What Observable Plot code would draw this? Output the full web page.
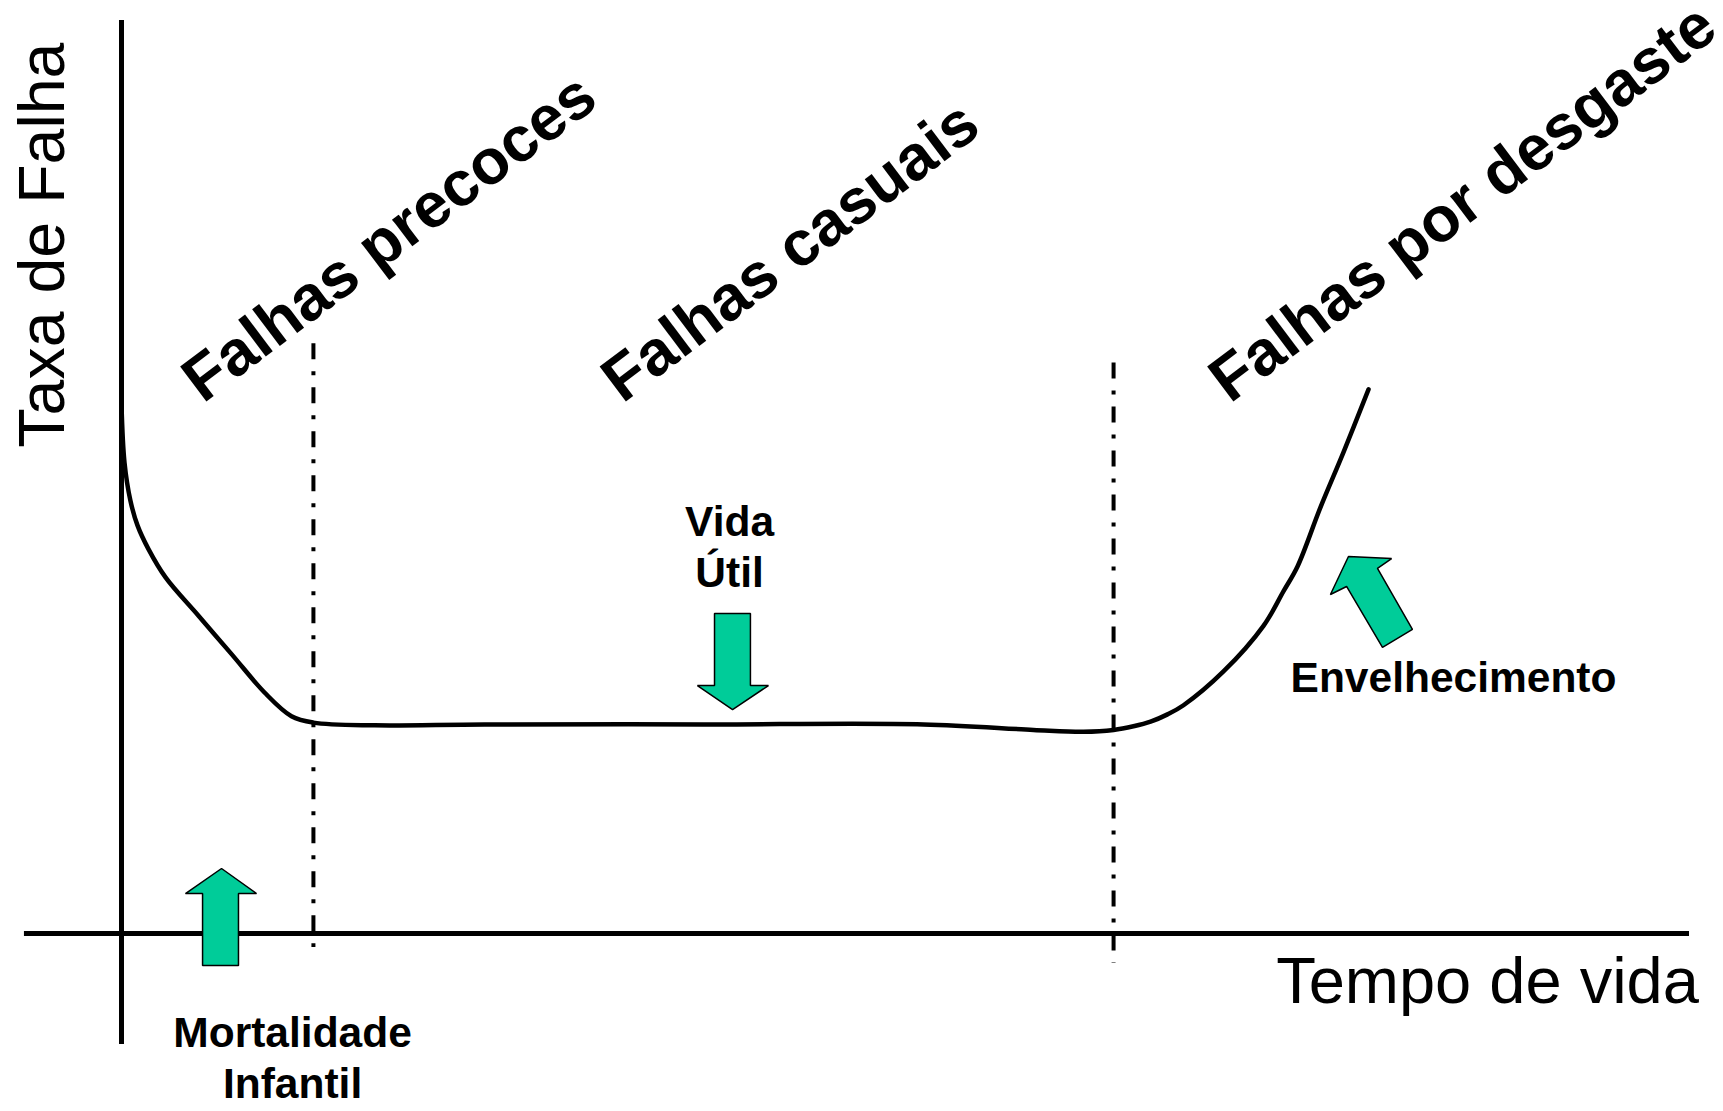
<!DOCTYPE html>
<html>
<head>
<meta charset="utf-8">
<script src="https://cdn.jsdelivr.net/npm/d3@7"></script>
<script src="https://cdn.jsdelivr.net/npm/@observablehq/plot@0.6"></script>
<style>
  html, body { margin: 0; padding: 0; background: #fff; }
  #chart { width: 1723px; height: 1111px; }
</style>
</head>
<body>
<div id="chart"></div>
<script>
// Bathtub curve: time (0-100) vs failure rate (0-100)
const curveTime = [0, 0.19, 0.57, 1.02, 1.72, 2.81, 4.91, 7.02, 9.12, 10.84, 12.24, 16.14, 23.15, 37.12, 51.15, 58.16, 61.35, 63.27, 64.54, 65.63, 66.71, 67.73, 70.28, 72.83, 74.11, 75.0, 76.47, 77.93, 79.53];
const curveRate = [57.9, 51.6, 47.4, 44.7, 42.1, 39.0, 34.8, 30.6, 26.4, 23.8, 23.1, 22.8, 22.9, 22.9, 22.9, 22.3, 22.1, 22.3, 22.7, 23.2, 24.0, 25.0, 28.7, 33.7, 37.5, 40.2, 46.7, 52.7, 59.6];

// Phase boundaries (dash-dot lines)
const boundaryTime = [12.24, 63.27];
const boundaryTop = [64.6, 62.5];
const boundaryBottom = [-1.53, -3.29];

// Axis extents
const xAxisFrom = -6.19, xAxisTo = 100;
const yAxisFrom = -12.16, yAxisTo = 100;

// Phase titles (rotated)
const phaseLabels = ["Falhas precoces", "Falhas casuais", "Falhas por desgaste"];
const phaseLabelTime = [5.2, 31.95, 70.7];
const phaseLabelRate = [58.0, 58.0, 58.0];

// Arrow annotations
const arrowIds = ["mortalidade", "vida", "envelhecimento"];
const arrowTimes = [
  [6.38, 8.61, 7.46, 7.46, 5.17, 5.17, 4.08],
  [38.97, 41.26, 40.11, 40.11, 37.82, 37.82, 36.73],
  [78.25, 81.0, 80.10, 82.33, 80.42, 78.13, 77.10]
];
const arrowRates = [
  [7.12, 4.38, 4.38, -3.50, -3.50, 4.38, 4.38],
  [24.53, 27.16, 27.16, 35.05, 35.05, 27.16, 27.16],
  [41.29, 41.07, 39.98, 33.30, 31.33, 38.01, 37.13]
];

const arrowLabels = ["Mortalidade\nInfantil", "Vida\nÚtil", "Envelhecimento"];
const arrowLabelTime = [10.91, 38.78, 84.95];
const arrowLabelRate = [-18.07, 37.9, 26.4];
const arrowLabelLineHeight = [1.2, 1.2, 1.2];

const axisTitleX = "Tempo de vida";
const axisTitleY = "Taxa de Falha";

// Build tables
const curve = curveTime.map((t, i) => ({t, r: curveRate[i]}));
const boundaries = boundaryTime.map((t, i) => ({t, y1: boundaryTop[i], y2: boundaryBottom[i]}));
const phases = phaseLabels.map((label, i) => ({label, t: phaseLabelTime[i], r: phaseLabelRate[i]}));
const arrows = arrowIds.flatMap((id, k) => arrowTimes[k].map((t, i) => ({id, t, r: arrowRates[k][i]})));
const arrowText = arrowLabels.map((label, i) => ({label, t: arrowLabelTime[i], r: arrowLabelRate[i], lh: arrowLabelLineHeight[i]}));

const font = "'Liberation Sans', Arial, sans-serif";
const teal = "#00CC99";

const chart = Plot.plot({
  width: 1723,
  height: 1111,
  margin: 0,
  x: {domain: [0, 100], range: [121, 1689], axis: null},
  y: {domain: [0, 100], range: [933, 20], axis: null},
  style: {background: "#fff", color: "#000", fontFamily: font},
  marks: [
    // axes
    Plot.ruleY([0], {x1: xAxisFrom, x2: xAxisTo, stroke: "#000", strokeWidth: 5}),
    Plot.ruleX([0], {y1: yAxisFrom, y2: yAxisTo, stroke: "#000", strokeWidth: 5}),
    // phase boundaries
    Plot.ruleX(boundaries, {x: "t", y1: "y1", y2: "y2", stroke: "#000", strokeWidth: 4, strokeDasharray: "16,12,4,12"}),
    // bathtub curve
    Plot.line(curve, {x: "t", y: "r", stroke: "#000", strokeWidth: 4.5, curve: "catmull-rom"}),
    // arrows
    Plot.line(arrows, {x: "t", y: "r", z: "id", fill: teal, stroke: "#000", strokeWidth: 1.5, curve: "linear-closed", strokeLinejoin: "miter"}),
    // rotated phase titles
    ...phases.map(p => Plot.text([p], {x: "t", y: "r", text: "label", rotate: -37, textAnchor: "start", lineAnchor: "bottom", fontSize: 63.5, fontWeight: "bold", fontFamily: font, fill: "#000"})),
    // arrow labels
    ...arrowText.map(a => Plot.text([a], {x: "t", y: "r", text: "label", textAnchor: "middle", lineAnchor: "bottom", lineHeight: a.lh, fontSize: 42.5, fontWeight: "bold", fontFamily: font, fill: "#000"})),
    // axis titles
    Plot.text([axisTitleX], {x: 87.12, y: -7.56, text: d => d, textAnchor: "middle", lineAnchor: "bottom", fontSize: 65, fontFamily: font, fill: "#000"}),
    Plot.text([axisTitleY], {x: -3.64, y: 75.4, text: d => d, rotate: -90, textAnchor: "middle", lineAnchor: "bottom", fontSize: 64.5, fontFamily: font, fill: "#000"})
  ]
});

document.getElementById("chart").appendChild(chart);
</script>
</body>
</html>
